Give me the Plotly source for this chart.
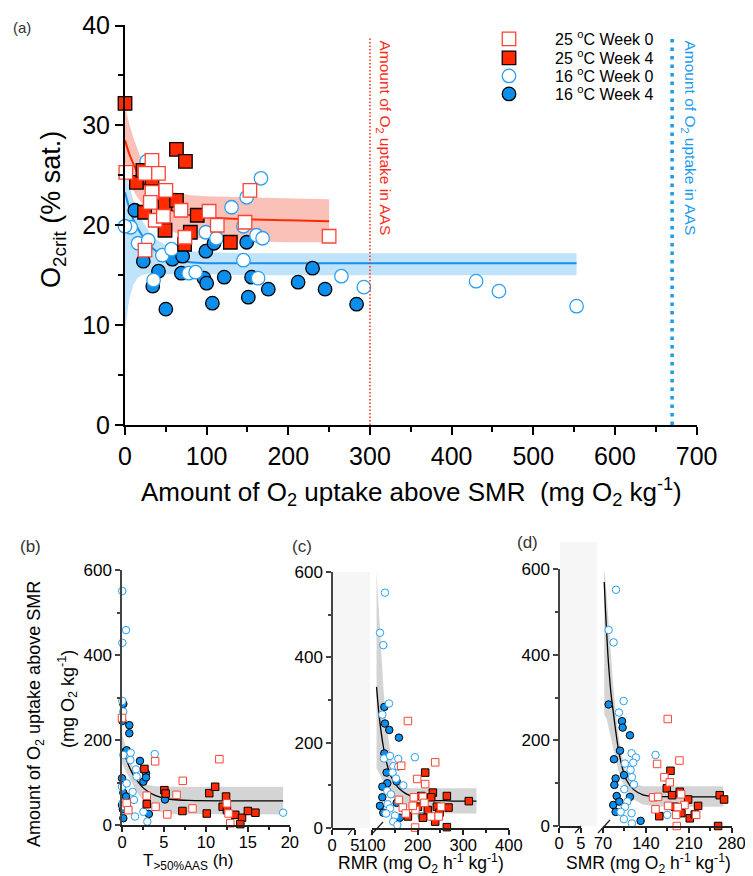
import plotly.graph_objects as go

# page offset (browser body margin) compensation
OFF = 8
W, H = 753 - OFF, 876 - OFF
FONT = "Arial, Liberation Sans, sans-serif"

# ---------------- Panel (a) data ----------------
a_r0_x = [1, 33, 24.5, 41, 33, 50, 31, 37, 47, 68.5, 103, 73.4, 113, 147, 153, 24.5, 250]
a_r0_y = [25.3, 26.5, 25.2, 25.2, 23.3, 23.5, 22.3, 20.5, 20.9, 21.5, 21.4, 18.8, 20.0, 20.3, 23.5, 17.5, 18.9]
a_r4_x = [0, 63, 74, 14, 33, 22, 49, 63, 24, 88.5, 49, 80, 73, 129]
a_r4_y = [32.2, 27.6, 26.4, 24.3, 24.7, 25.5, 22.2, 22.5, 21.3, 21.0, 19.5, 19.3, 18.1, 18.3]
a_b0_x = [26.5, 7, 16, 28.5, 45.7, 57, 35, 78, 86.5, 99, 112, 130.5, 149, 166.5, 145, 161, 168.5, 145, 163, 265, 292.5, 430, 458, 553, 0]
a_b0_y = [26.4, 19.8, 18.2, 18.5, 17.0, 17.6, 14.5, 15.2, 15.3, 19.3, 18.7, 21.8, 22.8, 24.7, 19.9, 19.0, 18.7, 16.5, 14.7, 14.9, 13.8, 14.4, 13.4, 11.9, 19.9]
a_b4_x = [12, 22.4, 41, 34, 58, 70.6, 69, 50, 99, 109, 96.7, 100, 121.5, 107, 149, 151, 155, 175.5, 212, 229.7, 245, 283.6]
a_b4_y = [21.5, 16.4, 15.4, 13.9, 16.6, 16.9, 15.2, 11.6, 17.4, 18.2, 14.7, 14.2, 14.8, 12.2, 18.3, 12.8, 14.8, 13.6, 14.3, 15.7, 13.6, 12.1]

red_fit_x = [0, 5, 10, 15, 20, 30, 40, 50, 60, 80, 100, 150, 200, 250]
red_fit_y = [28.5, 27.2, 26.2, 25.3, 24.6, 23.3, 22.4, 21.8, 21.4, 21.0, 20.8, 20.6, 20.5, 20.4]
red_band_up = [32.0, 30.2, 28.8, 27.6, 26.6, 25.2, 24.3, 23.7, 23.3, 23.0, 22.9, 22.8, 22.7, 22.6]
red_band_lo = [25.0, 24.3, 23.5, 22.8, 22.2, 21.2, 20.4, 19.8, 19.3, 18.8, 18.6, 18.4, 18.3, 18.3]

blue_fit_x = [0, 5, 10, 15, 20, 30, 40, 50, 60, 80, 100, 150, 250, 400, 553]
blue_fit_y = [23.3, 21.8, 20.6, 19.8, 19.1, 18.0, 17.3, 16.9, 16.6, 16.3, 16.2, 16.2, 16.2, 16.2, 16.2]
blue_band_up = [26.0, 24.0, 22.6, 21.5, 20.6, 19.3, 18.5, 18.0, 17.7, 17.4, 17.3, 17.2, 17.2, 17.2, 17.2]
blue_band_lo = [9.5, 12.5, 14.0, 14.7, 15.0, 15.2, 15.2, 15.1, 15.1, 15.1, 15.1, 15.0, 15.0, 15.0, 15.0]

aas_uptake = [300, 670]  # amount of O2 uptake in AAS (25 oC, 16 oC)

# ---------------- Panel (b) data ----------------
b_b0_x = [0.03, 0.48, 0.04, 0.04, 0.15, 1.03, 0.16, 1.67, 1.75, 1.0, 3.9, 0.0, 0.1, 0.16, 0.75, 0.56, 1.27, 1.43, 1.55, 2.55, 3.02, 19.2]
b_b0_y = [551, 459, 429, 292, 267, 170, 165, 131, 114, 153, 167, 90, 52, 45, 39, 98, 78, 59, 20, 31, 8, 29]
b_b4_x = [0.16, 0.04, 0.87, 0.87, 0.56, 2.14, 2.86, 2.55, 2.86, 0.0, 0.16, 0.0, 0.1, 0.16, 3.2, 5.12, 0.48]
b_b4_y = [285, 245, 235, 216, 176, 151, 122, 102, 112, 110, 76, 47, 37, 16, 26, 60, 67]
b_r4_x = [2.67, 5.05, 5.2, 2.95, 7.2, 10.1, 10.4, 11.1, 12.4, 12.0, 13.5, 14.3, 14.1, 15.0, 15.9, 12.5]
b_r4_y = [132, 82, 74, 49, 33, 27, 75, 90, 67, 43, 24, 17, 2, 33, 29, 35]
b_r0_x = [0.0, 3.95, 11.6, 7.24, 6.5, 2.95, 4.0, 5.4, 8.4, 12.5, 12.7, 12.9, 0.56, 0.75]
b_r0_y = [252, 150, 155, 104, 71, 69, 43, 25, 39, 51, 27, 4, 51, 35]
b_fit_x = [0, 0.5, 1, 1.5, 2, 2.5, 3, 4, 5, 6, 8, 12, 19.2]
b_fit_y = [180, 155, 131, 113, 99, 88, 80, 69, 63, 60, 58, 57, 57]
b_band_up = [215, 180, 150, 128, 112, 102, 95, 91, 90, 90, 90, 90, 90]
b_band_lo = [145, 125, 105, 88, 72, 58, 46, 34, 28, 26, 25, 25, 25]

# ---------------- Panel (c) data ----------------
c_b0_x = [128.4, 117.5, 124.8, 137.2, 122.6, 126.3, 139.4, 157.6, 194, 146.7, 157.6, 145.2, 152.5, 168.6, 133.5, 141.5, 134.2, 139.4, 130.7, 150.4, 146.7, 155.5, 208.8]
c_b0_y = [552, 458, 429, 292, 266, 163, 169, 162, 166, 145, 144, 130, 116, 100, 87, 79, 56, 46, 34, 29, 15, 7, 28]
c_b4_x = [127, 128.4, 137.9, 159, 127, 133.5, 122.6, 154, 122.6, 154, 117.5, 124.8, 160.9, 132]
c_b4_y = [284, 245, 230, 212, 175, 105, 97, 109, 72, 59, 52, 36, 24, 130]
c_r4_x = [216.6, 233.4, 229.8, 207.9, 264.1, 267.7, 242.2, 222.4, 200.5, 248, 238.5, 211.5, 178.7, 264.1, 312.2]
c_r4_y = [130, 83, 72, 75, 75, 48, 50, 42, 50, 36, 15, 24, 27, 2, 63]
c_r0_x = [178.7, 238.5, 164, 199, 216.6, 158.8, 191.6, 211.5, 167.5, 174, 195.2, 214.9, 229.5, 251.4, 246.3, 194.5, 189.4]
c_r0_y = [251, 154, 146, 115, 103, 66, 72, 73, 48, 34, 42, 59, 27, 50, 27, 1, 52]
c_fit_x = [110, 115, 120, 125, 130, 140, 150, 160, 175, 190, 210, 230, 260, 300, 329]
c_fit_y = [331, 270, 225, 190, 162, 125, 105, 92, 80, 73, 68, 65, 64, 63, 63]
c_band_up = [600, 520, 420, 330, 260, 180, 135, 110, 95, 93, 93, 93, 93, 93, 93]
c_band_lo = [140, 130, 120, 108, 95, 78, 65, 55, 48, 45, 40, 36, 34, 34, 34]

# ---------------- Panel (d) data ----------------
d_b0_x = [91.2, 79.2, 87.3, 103.6, 96.0, 116.6, 123.7, 105.8, 119.3, 115, 117.1, 120.4, 104.7, 109.6, 105.8, 98.8, 116.6, 104.1, 117.1, 155.6, 174.6]
d_b0_y = [552, 458, 429, 292, 265, 170, 160, 146, 148, 131, 114, 97, 86, 57, 45, 33, 30, 16, 6, 166, 26]
d_b4_x = [79.2, 100.9, 102, 113.9, 97.7, 87.9, 90.6, 88.5, 104.3, 92.3, 113.9, 86.7, 96.5, 90.6, 131.3]
d_b4_y = [284, 245, 230, 212, 176, 156, 111, 96, 119, 70, 68, 49, 57, 33, 12]
d_r4_x = [180, 174, 182.7, 195.2, 208.8, 260.3, 267.4, 225, 211.4, 197.8, 187, 219.6, 257.6, 161.7]
d_r4_y = [129, 88, 72, 80, 62, 72, 62, 47, 18, 30, 45, 27, 0, 23]
d_r0_x = [175.6, 194.6, 158.2, 170.1, 178.8, 151.7, 159.8, 197.3, 155.5, 176.1, 202.8, 191.9, 189.2, 221.8, 190.3]
d_r0_y = [250, 153, 145, 114, 102, 67, 68, 74, 39, 47, 49, 44, 26, 26, 0]
d_fit_x = [72, 74, 76, 78, 80, 83, 86, 90, 95, 100, 108, 120, 135, 160, 200, 266]
d_fit_y = [570, 505, 450, 400, 360, 310, 275, 230, 180, 145, 108, 85, 73, 69, 68, 68]
d_band_up = [600, 580, 540, 500, 450, 390, 340, 280, 215, 170, 125, 100, 93, 93, 93, 93]
d_band_lo = [260, 255, 250, 240, 225, 205, 185, 158, 130, 108, 84, 62, 50, 45, 45, 45]

series_names = ["25 <sup>o</sup>C Week 0", "25 <sup>o</sup>C Week 4",
                "16 <sup>o</sup>C Week 0", "16 <sup>o</sup>C Week 4"]

# ---------------- styles ----------------
RED = "#FF2A00"
RED_OPEN = "#FF4433"
BLUE = "#0C8EEC"
BLUE_OPEN = "#2A9FF2"


def px(x):
    return (x - OFF) / W


def py(y):
    return 1 - (y - OFF) / H


def style(kind, size, lw):
    if kind == "r0":
        return dict(symbol="square", size=size, color="white", line=dict(color=RED_OPEN, width=lw))
    if kind == "r4":
        return dict(symbol="square", size=size, color=RED, line=dict(color="black", width=lw))
    if kind == "b0":
        return dict(symbol="circle", size=size, color="white", line=dict(color=BLUE_OPEN, width=lw))
    return dict(symbol="circle", size=size, color=BLUE, line=dict(color="black", width=lw))


fig = go.Figure()


def band(xs, up, lo, color, xa, ya):
    fig.add_trace(go.Scatter(x=list(xs) + list(xs)[::-1], y=list(up) + list(lo)[::-1],
                             fill="toself", fillcolor=color, mode="lines", line=dict(width=0),
                             hoverinfo="skip", showlegend=False, xaxis=xa, yaxis=ya))


def line(xs, ys, color, width, xa, ya):
    fig.add_trace(go.Scatter(x=xs, y=ys, mode="lines", line=dict(color=color, width=width, shape="spline"),
                             hoverinfo="skip", showlegend=False, xaxis=xa, yaxis=ya))


def pts(xs, ys, kind, size, lw, xa, ya, name=None, legend=None):
    kw = {}
    if legend:
        kw["legend"] = legend
    fig.add_trace(go.Scatter(x=xs, y=ys, mode="markers", marker=style(kind, size, lw),
                             cliponaxis=False, xaxis=xa, yaxis=ya,
                             name=name if name else kind, showlegend=name is not None, **kw))


# empty traces so that the broken-axis subplots exist
fig.add_trace(go.Scatter(x=[], y=[], xaxis="x3", yaxis="y3", showlegend=False, hoverinfo="skip"))
fig.add_trace(go.Scatter(x=[], y=[], xaxis="x5", yaxis="y4", showlegend=False, hoverinfo="skip"))

# Panel (a)
MA, MLW = 13.5, 1.3
band(blue_fit_x, blue_band_up, blue_band_lo, "rgba(20,150,240,0.27)", "x", "y")
band(red_fit_x, red_band_up, red_band_lo, "rgba(243,100,80,0.40)", "x", "y")
line(blue_fit_x, blue_fit_y, "#1A8FEA", 2, "x", "y")
line(red_fit_x, red_fit_y, RED, 2, "x", "y")
pts(a_b4_x, a_b4_y, "b4", MA, MLW, "x", "y", series_names[3], "legend4")
pts(a_b0_x, a_b0_y, "b0", MA, MLW, "x", "y", series_names[2], "legend3")
pts(a_r4_x, a_r4_y, "r4", MA, MLW, "x", "y", series_names[1], "legend2")
pts(a_r0_x, a_r0_y, "r0", MA, MLW, "x", "y", series_names[0], "legend")

GRAYBAND = "rgba(0,0,0,0.17)"
SM, SLW = 7.5, 1.0
# Panel (b)
band(b_fit_x, b_band_up, b_band_lo, GRAYBAND, "x2", "y2")
line(b_fit_x, b_fit_y, "black", 1.3, "x2", "y2")
for xs, ys, k in [(b_b4_x, b_b4_y, "b4"), (b_b0_x, b_b0_y, "b0"), (b_r4_x, b_r4_y, "r4"), (b_r0_x, b_r0_y, "r0")]:
    pts(xs, ys, k, SM, SLW, "x2", "y2")
# Panel (c)
band(c_fit_x, c_band_up, c_band_lo, GRAYBAND, "x4", "y3")
line(c_fit_x, c_fit_y, "black", 1.3, "x4", "y3")
for xs, ys, k in [(c_b4_x, c_b4_y, "b4"), (c_b0_x, c_b0_y, "b0"), (c_r4_x, c_r4_y, "r4"), (c_r0_x, c_r0_y, "r0")]:
    pts(xs, ys, k, SM, SLW, "x4", "y3")
# Panel (d)
band(d_fit_x, d_band_up, d_band_lo, GRAYBAND, "x6", "y4")
line(d_fit_x, d_fit_y, "black", 1.3, "x6", "y4")
for xs, ys, k in [(d_b4_x, d_b4_y, "b4"), (d_b0_x, d_b0_y, "b0"), (d_r4_x, d_r4_y, "r4"), (d_r0_x, d_r0_y, "r0")]:
    pts(xs, ys, k, SM, SLW, "x6", "y4")


def ax(domain, rng, anchor, dtick=None, tickvals=None, minor_dtick=None, fs=16.5, lw=1.5, tl=5,
       color="#222", position=None, standoff=None):
    d = dict(domain=domain, range=rng, showline=True, linecolor=color, linewidth=lw,
             ticks="outside", ticklen=tl, tickwidth=lw, tickcolor=color, showgrid=False, zeroline=False,
             tickfont=dict(family=FONT, size=fs, color="black"), automargin=False,
             ticklabeloverflow="allow")
    if standoff is not None:
        d["ticklabelstandoff"] = standoff
    if position is None:
        d["anchor"] = anchor
    else:
        d["anchor"] = "free"
        d["position"] = position
    if tickvals is not None:
        d["tickmode"] = "array"
        d["tickvals"] = tickvals
    elif dtick is not None:
        d["tick0"] = rng[0]
        d["dtick"] = dtick
    if minor_dtick is not None:
        d["minor"] = dict(dtick=minor_dtick, tick0=rng[0], ticks="outside", ticklen=tl * 0.6,
                          tickwidth=lw, tickcolor=color, showgrid=False)
    return d


YD_a = [py(425), py(25)]
YD_b = [py(825), py(570)]
YD_c = [py(828), py(572)]
YD_d = [py(826), py(569)]


def leg(row_y):
    return dict(x=px(463), y=py(row_y - 12), xanchor="left", yanchor="top", bgcolor="rgba(0,0,0,0)",
                font=dict(family=FONT, size=16, color="black"), itemwidth=82)


SO = -4
fig.update_layout(
    template="none",
    width=W, height=H, margin=dict(l=0, r=0, t=0, b=0, pad=0, autoexpand=False),
    paper_bgcolor="white", plot_bgcolor="rgba(0,0,0,0)",
    font=dict(family=FONT, color="black"),
    xaxis=ax([px(125), px(697)], [0, 700.5], "y", dtick=100, minor_dtick=50, fs=25, lw=2, tl=8, color="black"),
    yaxis=ax(YD_a, [0, 40.05], "x", dtick=10, minor_dtick=5, fs=25, lw=2, tl=8, color="black"),
    xaxis2=ax([px(122), px(290)], [0, 20.02], "y2", dtick=5, minor_dtick=2.5, standoff=SO),
    yaxis2=ax(YD_b, [0, 600.5], "x2", dtick=200, minor_dtick=100, color="#444", fs=17),
    xaxis3=ax([px(332), px(355)], [0, 5.01], "y3", tickvals=[0, 5], standoff=SO),
    xaxis4=ax([px(372), px(509)], [100, 400.3], "y3", dtick=100, minor_dtick=50, standoff=SO),
    yaxis3=ax(YD_c, [0, 600.5], "x3", dtick=200, minor_dtick=100, color="#444", position=px(332), fs=17),
    xaxis5=ax([px(559), px(581)], [0, 5.01], "y4", tickvals=[0, 5], standoff=SO),
    xaxis6=ax([px(603), px(732)], [70, 280.3], "y4", dtick=70, minor_dtick=35, standoff=SO),
    yaxis4=ax(YD_d, [0, 600.5], "x5", dtick=200, minor_dtick=100, color="#444", position=px(559), fs=17),
    legend=leg(34), legend2=leg(53), legend3=leg(71), legend4=leg(89),
)

shapes = []
# faint background rectangles near broken axes
shapes.append(dict(type="rect", xref="paper", yref="paper", x0=px(333), x1=px(370), y0=py(828), y1=py(572),
                   fillcolor="#f6f6f6", line=dict(width=0), layer="below"))
shapes.append(dict(type="rect", xref="paper", yref="paper", x0=px(560), x1=px(597), y0=py(826), y1=py(542),
                   fillcolor="#f6f6f6", line=dict(width=0), layer="below"))
# AAS vertical lines in panel (a)
shapes.append(dict(type="line", xref="x", yref="y", x0=aas_uptake[0], x1=aas_uptake[0], y0=0, y1=38.7,
                   line=dict(color="#FF2A1A", width=1.5, dash="1.5px,2px")))
shapes.append(dict(type="line", xref="x", yref="y", x0=aas_uptake[1], x1=aas_uptake[1], y0=0, y1=38.9,
                   line=dict(color="#1A9BF0", width=3.5, dash="3.5px,5px")))
# axis break slashes
for (x0, y0, x1, y1) in [(348, 835, 353, 828), (371, 835, 383, 822), (575, 833, 581, 826), (598, 833, 610, 820)]:
    shapes.append(dict(type="line", xref="paper", yref="paper", x0=px(x0), y0=py(y0), x1=px(x1), y1=py(y1),
                       line=dict(color="#222", width=1.2)))
fig.update_layout(shapes=shapes)


def ann(text, x, y, size, color="black", angle=0, xanchor="center", yanchor="middle"):
    fig.add_annotation(text=text, x=px(x), y=py(y), xref="paper", yref="paper", showarrow=False,
                       textangle=angle, xanchor=xanchor, yanchor=yanchor,
                       font=dict(family=FONT, size=size, color=color))


ann("(a)", 22, 27, 15, "#333")
ann("(b)", 30, 546, 17, "#333")
ann("(c)", 302, 546, 17, "#333")
ann("(d)", 527, 542, 17, "#333")
ann("Amount of O<sub>2</sub> uptake above SMR  (mg O<sub>2</sub> kg<sup>-1</sup>)", 411, 492, 26)
ann("O<sub>2crit</sub> (% sat.)", 53, 210, 27, angle=-90)
ann("Amount of O<sub>2</sub> uptake in AAS", 384, 38, 15.5, "#FF2A1A", angle=90, yanchor="top")
ann("Amount of O<sub>2</sub> uptake in AAS", 689, 38, 15.5, "#1A9BF0", angle=90, yanchor="top")
ann("T<sub>&gt;50%AAS</sub> (h)", 188, 862, 17)
ann("RMR (mg O<sub>2</sub> h<sup>-1</sup> kg<sup>-1</sup>)", 421, 863, 17.5)
ann("SMR (mg O<sub>2</sub> h<sup>-1</sup> kg<sup>-1</sup>)", 648, 863, 17.5)
ann("Amount of O<sub>2</sub> uptake above SMR", 35, 714, 18, angle=-90)
ann("(mg O<sub>2</sub> kg<sup>-1</sup>)", 67, 699, 18, angle=-90)

fig.write_html("out.html")
